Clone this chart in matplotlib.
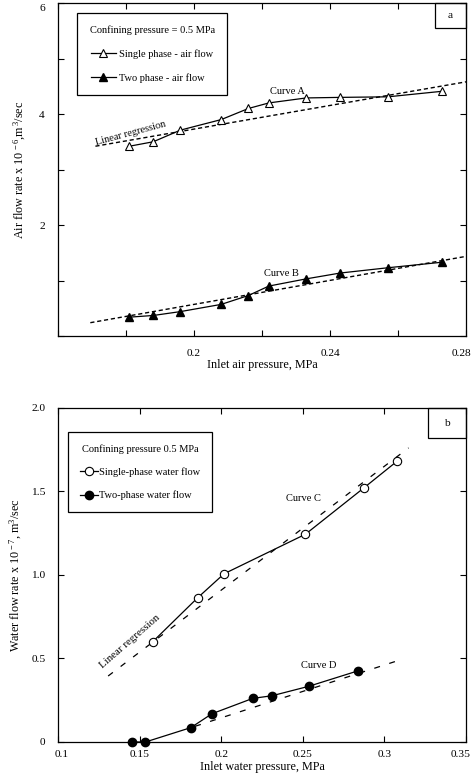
import matplotlib
matplotlib.use("Agg")
import matplotlib.pyplot as plt
import matplotlib.transforms as mtransforms
from matplotlib.patches import Rectangle
from matplotlib.ticker import FixedLocator, NullFormatter

plt.rcParams['font.family'] = ['Liberation Serif', 'DejaVu Serif']
plt.rcParams['mathtext.fontset'] = 'custom'
plt.rcParams['mathtext.rm'] = 'Liberation Serif'
plt.rcParams['mathtext.it'] = 'Liberation Serif:italic'
plt.rcParams['lines.scale_dashes'] = False

# ---------------- data: panel a ----------------
p_air = [0.181, 0.188, 0.196, 0.208, 0.216, 0.222, 0.233, 0.243, 0.257, 0.273]
q_single_air = [3.42, 3.50, 3.71, 3.90, 4.10, 4.20, 4.29, 4.30, 4.31, 4.41]
q_two_air = [0.34, 0.37, 0.44, 0.57, 0.73, 0.90, 1.03, 1.135, 1.23, 1.33]
reg_a_x = [0.171, 0.280]
reg_a_y = [3.42, 4.58]
reg_b_x = [0.1695, 0.280]
reg_b_y = [0.24, 1.435]
xticks_a = [0.2, 0.24, 0.28]
xticklabels_a = ["0.2", "0.24", "0.28"]
xminor_a = [0.16, 0.18, 0.22, 0.26]
yticks_a = [2, 4, 6]
yticklabels_a = ["2", "4", "6"]
yminor_a = [0, 1, 3, 5]

# ---------------- data: panel b ----------------
p_w_single = [0.158, 0.1855, 0.2017, 0.2516, 0.2876, 0.3077]
q_w_single = [0.60, 0.863, 1.007, 1.244, 1.523, 1.681]
p_w_two = [0.1454, 0.1536, 0.1814, 0.1943, 0.2193, 0.2312, 0.2535, 0.2835]
q_w_two = [0.0, 0.0, 0.086, 0.169, 0.261, 0.277, 0.333, 0.425]
reg_c_x = [0.1307, 0.3148]
reg_c_y = [0.395, 1.761]
reg_d_x = [0.184, 0.3087]
reg_d_y = [0.094, 0.4885]
xticks_b = [0.1, 0.15, 0.2, 0.25, 0.3, 0.35]
xticklabels_b = ["0.1", "0.15", "0.2", "0.25", "0.3", "0.35"]
yticks_b = [0, 0.5, 1.0, 1.5, 2.0]
yticklabels_b = ["0", "0.5", "1.0", "1.5", "2.0"]

FS = 8.2     # tick labels
LFS = 7.5    # legend / annotations
fig = plt.figure(figsize=(4.74, 7.78), dpi=100)
ax1 = fig.add_axes([0.1224, 0.5681, 0.8608, 0.4280])
ax2 = fig.add_axes([0.1224, 0.0463, 0.8608, 0.4293])

for ax in (ax1, ax2):
    for s in ax.spines.values():
        s.set_linewidth(0.9)
    ax.tick_params(which='both', direction='in', top=True, right=True,
                   length=4, width=0.8, labelsize=FS)


def shift_label(lbl, dx_px, dy_px):
    off = mtransforms.ScaledTranslation(dx_px / 100.0, dy_px / 100.0, fig.dpi_scale_trans)
    lbl.set_transform(lbl.get_transform() + off)


# ---------- panel a ----------
ax1.plot(reg_a_x, reg_a_y, color='black', lw=1.0, ls=(0, (3.0, 2.0)))
ax1.plot(reg_b_x, reg_b_y, color='black', lw=1.0, ls=(0, (3.0, 2.0)))
lA, = ax1.plot(p_air, q_single_air, color='black', lw=0.9, marker='^', ms=5.5,
               mfc='white', mec='black', mew=0.8, label='Single phase - air flow')
lB, = ax1.plot(p_air, q_two_air, color='black', lw=0.9, marker='^', ms=5.5,
               mfc='black', mec='black', label='Two phase - air flow')
ax1.set_xlim(0.16, 0.28)
ax1.set_ylim(0, 6)
ax1.xaxis.set_major_locator(FixedLocator(xticks_a))
ax1.set_xticklabels(xticklabels_a)
ax1.xaxis.set_minor_locator(FixedLocator(xminor_a))
ax1.yaxis.set_major_locator(FixedLocator(yticks_a))
ax1.set_yticklabels(yticklabels_a)
ax1.yaxis.set_minor_locator(FixedLocator(yminor_a))
ax1.xaxis.set_minor_formatter(NullFormatter())
ax1.yaxis.set_minor_formatter(NullFormatter())
ax1.tick_params(axis='x', which='both', pad=9)
ax1.tick_params(axis='y', which='both', pad=9.5)
ax1.set_xlabel('Inlet air pressure, MPa', fontsize=FS + 0.5, labelpad=1)
ax1.set_ylabel('Air flow rate x 10$^{\\,-6}$,m$^{\\,3}$/sec', fontsize=FS + 0.5, labelpad=8)
shift_label(ax1.get_xticklabels()[-1], -5, 0)
shift_label(ax1.get_yticklabels()[-1], 0, -4)

ax1.text(0.2275, 4.40, 'Curve A', fontsize=LFS, ha='center', va='center')
ax1.text(0.2258, 1.12, 'Curve B', fontsize=LFS, ha='center', va='center')
ax1.text(0.1813, 3.66, 'Linear regression', fontsize=LFS, ha='center', va='center',
         rotation=15, rotation_mode='anchor')

leg1 = ax1.legend(handles=[lA, lB], title='Confining pressure = 0.5 MPa',
                  loc='upper left', bbox_to_anchor=(0.0466, 0.970), borderaxespad=0,
                  fontsize=LFS, title_fontsize=LFS, frameon=True, fancybox=False,
                  edgecolor='black', framealpha=1, borderpad=1.2, labelspacing=1.35,
                  handlelength=2.4, handletextpad=0.3)
leg1.get_frame().set_linewidth(0.9)

ax1.add_patch(Rectangle((0.924, 0.925), 0.076, 0.075, transform=ax1.transAxes,
                        fill=False, edgecolor='black', lw=0.9, clip_on=False))
ax1.text(0.962, 0.9625, 'a', transform=ax1.transAxes, fontsize=FS,
         ha='center', va='center')

# ---------- panel b ----------
ax2.plot(reg_c_x, reg_c_y, color='black', lw=0.9, ls=(0, (4.3, 7.0)))
ax2.plot(reg_d_x, reg_d_y, color='black', lw=0.9, ls=(0, (4.3, 7.0)))
lC, = ax2.plot(p_w_single, q_w_single, color='black', lw=0.9, marker='o', ms=6,
               mfc='white', mec='black', mew=0.8, label='Single-phase water flow')
lD, = ax2.plot(p_w_two, q_w_two, color='black', lw=0.9, marker='o', ms=6,
               mfc='black', mec='black', label='Two-phase water flow', clip_on=False)
ax2.set_xlim(0.1, 0.35)
ax2.set_ylim(0, 2.0)
ax2.xaxis.set_major_locator(FixedLocator(xticks_b))
ax2.set_xticklabels(xticklabels_b)
ax2.yaxis.set_major_locator(FixedLocator(yticks_b))
ax2.set_yticklabels(yticklabels_b)
ax2.tick_params(axis='x', pad=6)
ax2.tick_params(axis='y', pad=9)
ax2.set_xlabel('Inlet water pressure, MPa', fontsize=FS + 0.5, labelpad=1)
ax2.set_ylabel('Water flow rate x 10$^{\\,-7}$, m$^{3}$/sec', fontsize=FS + 0.5, labelpad=5)
shift_label(ax2.get_xticklabels()[-1], -5, 0)
shift_label(ax2.get_xticklabels()[0], 4, 0)

ax2.text(0.2504, 1.46, 'Curve C', fontsize=LFS, ha='center', va='center')
ax2.text(0.2600, 0.455, 'Curve D', fontsize=LFS, ha='center', va='center')
ax2.text(0.144, 0.604, 'Linear regression', fontsize=LFS + 0.3, ha='center', va='center',
         rotation=41, rotation_mode='anchor')

leg2 = ax2.legend(handles=[lC, lD], title='Confining pressure 0.5 MPa',
                  loc='upper left', bbox_to_anchor=(0.0245, 0.928), borderaxespad=0,
                  fontsize=LFS, title_fontsize=LFS, frameon=True, fancybox=False,
                  edgecolor='black', framealpha=1, borderpad=1.15, labelspacing=1.3,
                  handlelength=1.7, handletextpad=0.1)
leg2.get_frame().set_linewidth(0.9)

ax2.add_patch(Rectangle((0.907, 0.910), 0.093, 0.090, transform=ax2.transAxes,
                        fill=False, edgecolor='black', lw=0.9, clip_on=False))
ax2.text(0.9535, 0.955, 'b', transform=ax2.transAxes, fontsize=FS,
         ha='center', va='center')

fig.savefig('out.png', dpi=100)
